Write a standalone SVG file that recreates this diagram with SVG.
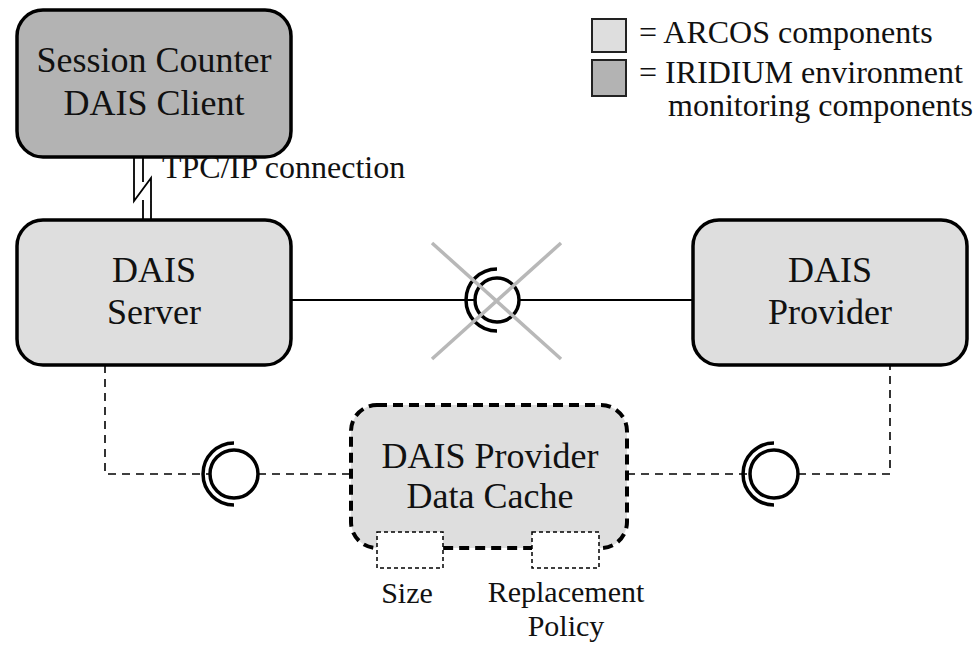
<svg xmlns="http://www.w3.org/2000/svg" width="977" height="646" viewBox="0 0 977 646">
<style>
text{font-family:"Liberation Serif","Times New Roman",serif;fill:#111}
.big{font-size:36px;text-anchor:middle}
.sm{font-size:32px}
.lbl{font-size:30px;text-anchor:middle}
.box{stroke:#000;stroke-width:3.5}
.dark{fill:#b3b3b3}
.light{fill:#dedede}
.line{stroke:#000;stroke-width:1.8;fill:none}
.dash{stroke:#000;stroke-width:1.6;fill:none;stroke-dasharray:8 6}
.sym{stroke:#000;stroke-width:3.5;fill:#fff}
.arc{stroke:#000;stroke-width:3.5;fill:none}
</style>
<g id="connectors">
  <path class="line" d="M134,157 V201 L151,178 V220"/>
  <path class="line" d="M143,157 V182 M143,200 V220"/>
  <line class="line" x1="291" y1="300" x2="693" y2="300"/>
  <path class="dash" d="M105,365 V474 H210"/>
  <path class="dash" d="M258,474 H351"/>
  <path class="dash" d="M627,474 H750"/>
  <path class="dash" d="M798,474 H890 V365"/>
</g>
<g id="client">
  <rect class="box dark" x="17" y="10" width="274" height="147" rx="26"/>
  <text class="big" x="154" y="72">Session Counter</text>
  <text class="big" x="154" y="115">DAIS Client</text>
</g>
<text class="sm" x="162" y="178">TPC/IP connection</text>
<g id="server">
  <rect class="box light" x="17" y="220" width="274" height="145" rx="26"/>
  <text class="big" x="154" y="282">DAIS</text>
  <text class="big" x="154" y="324">Server</text>
</g>
<g id="provider">
  <rect class="box light" x="693" y="220" width="274" height="145" rx="26"/>
  <text class="big" x="830" y="282">DAIS</text>
  <text class="big" x="830" y="324">Provider</text>
</g>
<g id="interface-center">
  <circle class="sym" cx="497" cy="300" r="22"/>
  <path class="arc" d="M497,269 A31,31 0 0 0 497,331"/>
  <line x1="432" y1="243" x2="561" y2="359" stroke="#b8b8b8" stroke-width="3.5"/>
  <line x1="561" y1="243" x2="432" y2="359" stroke="#b8b8b8" stroke-width="3.5"/>
</g>
<g id="interface-left">
  <circle class="sym" cx="234" cy="474" r="24"/>
  <path class="arc" d="M234,443 A31,31 0 0 0 234,505"/>
</g>
<g id="interface-right">
  <circle class="sym" cx="774" cy="474" r="24"/>
  <path class="arc" d="M774,443 A31,31 0 0 0 774,505"/>
</g>
<g id="cache">
  <rect x="351" y="405" width="276" height="143" rx="26" fill="#dedede" stroke="#000" stroke-width="4" stroke-dasharray="10 6"/>
  <text class="big" x="490" y="468">DAIS Provider</text>
  <text class="big" x="490" y="508">Data Cache</text>
</g>
<g id="size">
  <rect x="377" y="532" width="66" height="36" fill="#fff" stroke="#000" stroke-width="1.5" stroke-dasharray="4 3"/>
  <text class="lbl" x="407" y="603">Size</text>
</g>
<g id="policy">
  <rect x="532" y="532" width="67" height="36" fill="#fff" stroke="#000" stroke-width="1.5" stroke-dasharray="4 3"/>
  <text class="lbl" x="566" y="602">Replacement</text>
  <text class="lbl" x="566" y="636">Policy</text>
</g>
<g id="legend">
  <rect x="592" y="19" width="34" height="33" fill="#dedede" stroke="#222" stroke-width="2"/>
  <rect x="592" y="60" width="34" height="36" fill="#b3b3b3" stroke="#222" stroke-width="2"/>
  <text class="sm" x="639" y="43">= ARCOS components</text>
  <text class="sm" x="639" y="83">= IRIDIUM environment</text>
  <text class="sm" x="668" y="116">monitoring components</text>
</g>
</svg>
